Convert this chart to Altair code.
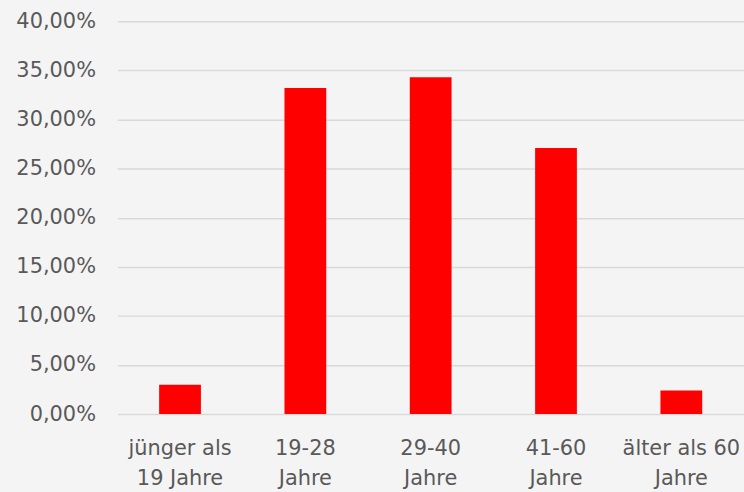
import altair as alt
import pandas as pd

categories = ["jünger als 19 Jahre", "19-28 Jahre", "29-40 Jahre", "41-60 Jahre", "älter als 60 Jahre"]
label_line1 = ["jünger als", "19-28", "29-40", "41-60", "älter als 60"]
label_line2 = ["19 Jahre", "Jahre", "Jahre", "Jahre", "Jahre"]
shares = [0.030, 0.332, 0.343, 0.271, 0.024]

df = pd.DataFrame({"Altersgruppe": categories, "Anteil": shares})

label_expr = " : ".join(
    [f"datum.label == '{c}' ? ['{a}', '{b}']" for c, a, b in zip(categories, label_line1, label_line2)]
) + " : datum.label"

FONT = "DejaVu Sans"
GREY = "#595959"

chart = (
    alt.Chart(df)
    .mark_bar(color="#ff0000")
    .encode(
        x=alt.X(
            "Altersgruppe:N",
            sort=categories,
            scale=alt.Scale(paddingInner=2 / 3, paddingOuter=1 / 3),
            axis=alt.Axis(
                title=None,
                labelAngle=0,
                domain=False,
                ticks=False,
                labelExpr=label_expr,
                labelPadding=24,
                labelLineHeight=30,
                labelFontSize=21,
                labelColor=GREY,
                labelFont=FONT,
            ),
        ),
        y=alt.Y(
            "Anteil:Q",
            scale=alt.Scale(domain=[0, 0.4]),
            axis=alt.Axis(
                title=None,
                values=[i * 0.05 for i in range(9)],
                labelExpr="replace(format(datum.value, '.2%'), '.', ',')",
                domain=False,
                ticks=False,
                labelPadding=22,
                labelFontSize=21,
                labelColor=GREY,
                labelFont=FONT,
                gridColor="#d9d9d9",
                gridWidth=1.5,
            ),
        ),
    )
    .properties(
        width=630,
        height=395,
        background="#f4f4f4",
        padding={"left": 118, "top": 20, "right": 0, "bottom": 77},
        autosize=alt.AutoSizeParams(type="none"),
    )
    .configure_view(stroke=None)
)

chart.save("out.html", embed_options={"renderer": "svg", "actions": False})
